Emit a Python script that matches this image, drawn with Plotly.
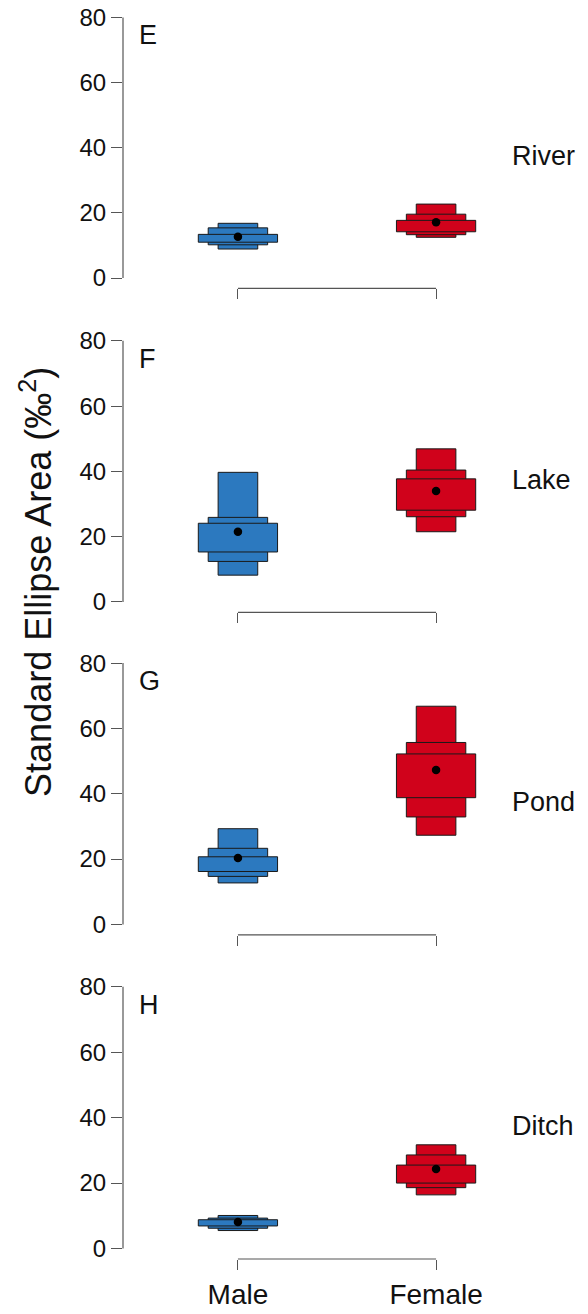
import plotly.graph_objects as go

# ---- data ----
habitats = ["River", "Lake", "Pond", "Ditch"]
panel_letters = ["E", "F", "G", "H"]
sexes = ["Male", "Female"]
sex_pos = [1, 2]
y_ticks = [0, 20, 40, 60, 80]

# Male posterior SEA credible intervals
male_95_low = [8.9, 8.2, 12.7, 5.5]
male_95_high = [16.8, 39.7, 29.3, 10.1]
male_75_low = [10.2, 12.4, 14.7, 6.2]
male_75_high = [15.4, 25.9, 23.3, 9.3]
male_50_low = [11.0, 15.3, 16.2, 6.9]
male_50_high = [13.4, 24.1, 20.7, 8.8]
male_mode = [12.7, 21.5, 20.3, 8.1]

# Female posterior SEA credible intervals
female_95_low = [12.5, 21.5, 27.3, 16.4]
female_95_high = [22.7, 46.9, 66.8, 31.7]
female_75_low = [13.3, 26.1, 32.9, 18.6]
female_75_high = [19.6, 40.4, 55.7, 28.6]
female_50_low = [14.2, 28.1, 38.8, 20.0]
female_50_high = [17.7, 37.7, 52.2, 25.5]
female_mode = [17.1, 34.0, 47.3, 24.3]

# ---- style ----
BLUE = "#2C79BF"
RED = "#D0021B"
EDGE = "#1a1a1a"
AXC = "#555555"
FONT = "Liberation Sans, Arial, Helvetica, sans-serif"
TXT = "#111111"

domains = [[0.7752, 1.0], [0.5165, 0.7417], [0.2589, 0.4843], [0.0, 0.2258]]

fig = go.Figure()
shapes = []
annotations = []

intervals = [
    (male_95_low, male_95_high, female_95_low, female_95_high, 0.2),
    (male_75_low, male_75_high, female_75_low, female_75_high, 0.3),
    (male_50_low, male_50_high, female_50_low, female_50_high, 0.4),
]

for i in range(4):
    xa = "x" if i == 0 else f"x{i+1}"
    ya = "y" if i == 0 else f"y{i+1}"
    for ml, mh, fl, fh, w in intervals:
        fig.add_trace(go.Bar(
            x=sex_pos,
            base=[ml[i], fl[i]],
            y=[mh[i] - ml[i], fh[i] - fl[i]],
            width=w,
            marker=dict(color=[BLUE, RED], line=dict(color=EDGE, width=1)),
            xaxis=xa, yaxis=ya, showlegend=False, hoverinfo="skip",
        ))
    fig.add_trace(go.Scatter(
        x=sex_pos, y=[male_mode[i], female_mode[i]], mode="markers",
        marker=dict(color="black", size=8.5),
        xaxis=xa, yaxis=ya, showlegend=False, hoverinfo="skip",
    ))

    xkey = "xaxis" if i == 0 else f"xaxis{i+1}"
    ykey = "yaxis" if i == 0 else f"yaxis{i+1}"
    fig.layout[xkey] = dict(
        domain=[0, 1], range=[0.42, 2.58], anchor=ya,
        tickvals=sex_pos, ticktext=sexes, ticks="outside", ticklen=10,
        tickwidth=1.2, tickcolor=AXC, showticklabels=(i == 3),
        showgrid=False, zeroline=False, showline=False,
        tickfont=dict(family=FONT, size=28, color=TXT),
    )
    fig.layout[ykey] = dict(
        domain=domains[i], range=[-3.2, 83.2], anchor=xa,
        tickvals=y_ticks, ticks="outside", ticklen=11, tickwidth=1.2,
        tickcolor=AXC, showgrid=False, zeroline=False, showline=False,
        tickfont=dict(family=FONT, size=24, color=TXT),
    )
    # y axis line spanning 0..80
    shapes.append(dict(type="line", xref=f"{xa} domain", x0=0, x1=0,
                       yref=ya, y0=y_ticks[0], y1=y_ticks[-1],
                       line=dict(color=AXC, width=1.2)))
    # x axis line spanning Male..Female
    shapes.append(dict(type="line", xref=xa, x0=sex_pos[0], x1=sex_pos[1],
                       yref=f"{ya} domain", y0=0, y1=0,
                       line=dict(color=AXC, width=1.2)))
    annotations.append(dict(text=panel_letters[i], xref=xa, yref=ya, x=0.49, y=74.5,
                            xanchor="left", yanchor="middle", showarrow=False,
                            font=dict(family=FONT, size=27, color=TXT)))
    annotations.append(dict(text=habitats[i], xref=xa, yref=ya, x=2.375, y=37.5,
                            xanchor="left", yanchor="middle", showarrow=False,
                            font=dict(family=FONT, size=27, color=TXT)))

annotations.append(dict(text="Standard Ellipse Area (‰<sup>2</sup>)",
                        xref="paper", yref="paper", x=-0.205, y=0.541,
                        xanchor="center", yanchor="middle", textangle=-90,
                        showarrow=False, font=dict(family=FONT, size=36, color=TXT)))

fig.update_layout(
    width=588, height=1314,
    margin=dict(l=123, r=37, t=4, b=50),
    barmode="overlay",
    plot_bgcolor="white", paper_bgcolor="white",
    shapes=shapes, annotations=annotations,
    showlegend=False,
)

fig.write_html("out.html")
